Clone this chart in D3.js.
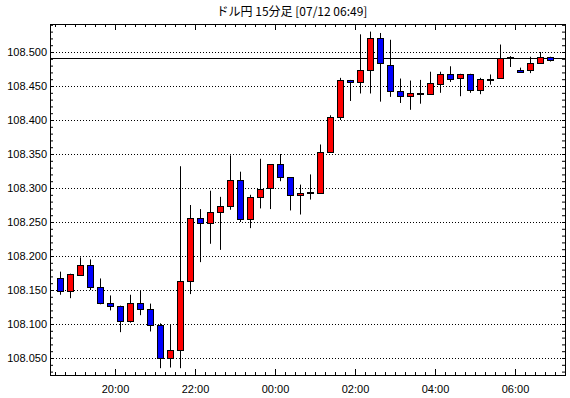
<!DOCTYPE html>
<html>
<head>
<meta charset="utf-8">
<script src="https://cdn.jsdelivr.net/npm/d3@7"></script>
<style>
  body { margin: 0; background: #fff; }
  svg { display: block; }
  .tick text { font-family: "Liberation Sans", Arial, sans-serif; font-size: 11px; fill: #000; }
</style>
</head>
<body>
<div id="chart"></div>
<script>
// 15 minute candles, USD/JPY
var times = ["18:30","18:45","19:00","19:15","19:30","19:45","20:00","20:15","20:30","20:45",
  "21:00","21:15","21:30","21:45","22:00","22:15","22:30","22:45","23:00","23:15",
  "23:30","23:45","00:00","00:15","00:30","00:45","01:00","01:15","01:30","01:45",
  "02:00","02:15","02:30","02:45","03:00","03:15","03:30","03:45","04:00","04:15",
  "04:30","04:45","05:00","05:15","05:30","05:45","06:00","06:15","06:30","06:45"];

var opens = [108.167,108.148,108.173,108.187,108.155,108.131,108.126,108.104,108.131,108.122,
  108.099,108.050,108.062,108.163,108.256,108.249,108.265,108.274,108.312,108.254,
  108.287,108.299,108.335,108.316,108.290,108.294,108.293,108.353,108.404,108.459,
  108.456,108.474,108.521,108.481,108.443,108.436,108.440,108.439,108.454,108.468,
  108.461,108.467,108.444,108.460,108.461,108.492,108.474,108.473,108.484,108.493];

var highs = [108.177,108.174,108.198,108.195,108.167,108.142,108.127,108.143,108.150,108.130,
  108.101,108.100,108.332,108.275,108.269,108.296,108.287,108.348,108.324,108.290,
  108.343,108.335,108.350,108.316,108.305,108.320,108.364,108.407,108.462,108.459,
  108.526,108.530,108.528,108.518,108.461,108.458,108.459,108.471,108.471,108.479,
  108.468,108.468,108.462,108.467,108.511,108.494,108.477,108.493,108.500,108.493];

var lows = [108.143,108.138,108.171,108.150,108.129,108.120,108.088,108.102,108.113,108.089,
  108.035,108.036,108.035,108.144,108.191,108.218,108.209,108.268,108.250,108.241,
  108.270,108.269,108.310,108.267,108.261,108.283,108.292,108.352,108.400,108.428,
  108.439,108.439,108.427,108.434,108.425,108.415,108.424,108.438,108.440,108.456,
  108.435,108.440,108.438,108.452,108.461,108.478,108.471,108.469,108.484,108.486];

var closes = [108.148,108.173,108.187,108.155,108.131,108.126,108.104,108.131,108.122,108.099,
  108.050,108.062,108.163,108.256,108.249,108.265,108.274,108.312,108.254,108.287,
  108.299,108.335,108.316,108.290,108.293,108.294,108.353,108.404,108.459,108.456,
  108.474,108.521,108.484,108.443,108.436,108.440,108.440,108.455,108.468,108.461,
  108.467,108.444,108.460,108.460,108.491,108.492,108.471,108.484,108.493,108.489];

var currentPrice = 108.491;
var yTickValues = [108.05,108.10,108.15,108.20,108.25,108.30,108.35,108.40,108.45,108.50];
var xTickLabels = ["20:00","22:00","00:00","02:00","04:00","06:00"];
var title = "ドル円 15分足 [07/12 06:49]";

var width = 570, height = 398;
var margin = {top: 24, right: 5, bottom: 23, left: 50};
var plotW = width - margin.left - margin.right;
var plotH = height - margin.top - margin.bottom;

function toDate(s) {
  var p = s.split(":").map(Number);
  // session starts on 07/11 evening, runs into 07/12
  return p[0] >= 12 ? new Date(2019, 6, 11, p[0], p[1]) : new Date(2019, 6, 12, p[0], p[1]);
}

var data = times.map(function(t, i) {
  return {t: toDate(t), o: opens[i], h: highs[i], l: lows[i], c: closes[i]};
});

var x = d3.scaleTime()
  .domain([new Date(2019, 6, 11, 18, 22, 30), new Date(2019, 6, 12, 7, 15)])
  .range([0, plotW]);

var y = d3.scaleLinear()
  .domain([108.025, 108.5412])
  .range([plotH, 0]);

var svg = d3.select("#chart").append("svg")
  .attr("width", width)
  .attr("height", height);

svg.append("text")
  .attr("x", 292)
  .attr("y", 16)
  .attr("text-anchor", "middle")
  .style("font-family", "'Noto Sans CJK JP', sans-serif")
  .style("font-size", "12px")
  .text(title);

var g = svg.append("g")
  .attr("transform", "translate(" + margin.left + "," + margin.top + ")");

// dotted grid
g.selectAll(".grid")
  .data(yTickValues)
  .enter().append("line")
  .attr("class", "grid")
  .attr("x1", 0)
  .attr("x2", plotW)
  .attr("y1", function(d) { return Math.round(y(d)) + 0.5; })
  .attr("y2", function(d) { return Math.round(y(d)) + 0.5; })
  .attr("stroke", "#000")
  .attr("stroke-dasharray", "1,2");

// minor ticks
var minorX = d3.timeMinute.every(15).range(x.domain()[0], x.domain()[1]);
var majorX = xTickLabels.map(toDate);
var minorY = d3.range(108.03, 108.541, 0.01);

function styleAxis(sel) {
  sel.select(".domain").remove();
  sel.selectAll(".tick line").attr("stroke", "#000");
}

g.append("g")
  .attr("transform", "translate(0," + plotH + ")")
  .call(d3.axisBottom(x).tickValues(minorX).tickSize(-3).tickFormat(""))
  .call(styleAxis);

g.append("g")
  .attr("transform", "translate(0," + plotH + ")")
  .call(d3.axisBottom(x).tickValues(majorX).tickSize(-6).tickPadding(10).tickFormat(d3.timeFormat("%H:%M")))
  .call(styleAxis);

g.append("g")
  .call(d3.axisTop(x).tickValues(minorX).tickSize(-3).tickFormat(""))
  .call(styleAxis);

g.append("g")
  .call(d3.axisTop(x).tickValues(majorX).tickSize(-6).tickFormat(""))
  .call(styleAxis);

g.append("g")
  .call(d3.axisLeft(y).tickValues(minorY).tickSize(-3).tickFormat(""))
  .call(styleAxis);

g.append("g")
  .call(d3.axisLeft(y).tickValues(yTickValues).tickSize(0).tickPadding(3).tickFormat(d3.format(".3f")))
  .call(styleAxis);

g.append("g")
  .attr("transform", "translate(" + plotW + ",0)")
  .call(d3.axisRight(y).tickValues(minorY).tickSize(-3).tickFormat(""))
  .call(styleAxis);

// frame
g.append("rect")
  .attr("x", 0.5)
  .attr("y", 0.5)
  .attr("width", plotW)
  .attr("height", plotH)
  .attr("fill", "none")
  .attr("stroke", "#000");

// current price line
g.append("line")
  .attr("x1", 0)
  .attr("x2", plotW)
  .attr("y1", Math.round(y(currentPrice)) + 0.5)
  .attr("y2", Math.round(y(currentPrice)) + 0.5)
  .attr("stroke", "#000");

// candles
var half = 7.5 * 60 * 1000;
function cx(d) { return Math.round(x(new Date(+d.t + half))) + 0.5; }

var candle = g.selectAll(".candle")
  .data(data)
  .enter().append("g")
  .attr("class", "candle");

candle.append("line")
  .attr("x1", cx)
  .attr("x2", cx)
  .attr("y1", function(d) { return y(d.h); })
  .attr("y2", function(d) { return y(d.l); })
  .attr("stroke", "#000");

candle.append("rect")
  .attr("x", function(d) { return cx(d) - 3; })
  .attr("width", 6)
  .attr("y", function(d) { return Math.round(y(Math.max(d.o, d.c))) + 0.5; })
  .attr("height", function(d) { return Math.max(1, Math.round(Math.abs(y(d.o) - y(d.c)))); })
  .attr("fill", function(d) { return d.c > d.o ? "#ff0000" : (d.c < d.o ? "#0000ff" : "#000"); })
  .attr("stroke", "#000")
  .attr("stroke-width", 1);
</script>
</body>
</html>
